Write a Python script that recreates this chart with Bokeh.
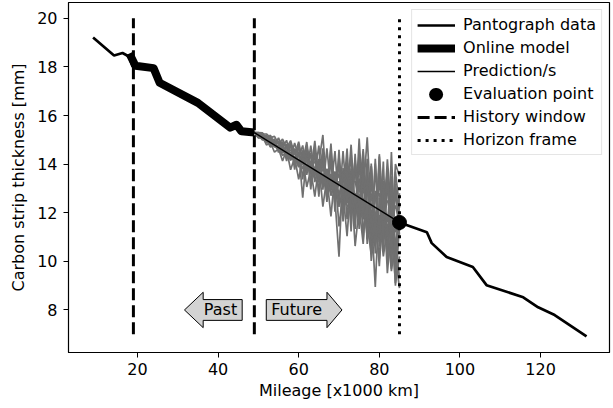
import math
from bokeh.plotting import figure
from bokeh.models import Range1d, FixedTicker, Legend, LegendItem, Label
from bokeh.embed import file_html
from bokeh.resources import INLINE

# ---------------- data ----------------
nan = float("nan")
pantograph_x = [9.0, 14.2, 16.3, 17.9, 18.8, 24.1, 25.3, 34.9, 43.1, 44.8, 46.0, 49.0,
                nan, 85.0, 91.8, 93.0, 96.7, 103.2, 106.6, 115.7, 119.4, 123.5, 131.4]
pantograph_y = [19.21, 18.47, 18.57, 18.43, 18.02, 18.02, 17.34, 16.52, 15.50, 15.64, 15.36, 15.30,
                nan, 11.60, 11.20, 10.75, 10.18, 9.77, 9.02, 8.52, 8.11, 7.79, 6.91]

online_x = [18.0, 19.5, 24.0, 25.5, 35.0, 43.0, 44.6, 45.8, 49.0]
online_y = [18.55, 18.05, 17.95, 17.35, 16.52, 15.50, 15.62, 15.35, 15.30]

pred_mean_x = [49.0, 85.0]
pred_mean_y = [15.30, 11.60]

pred_x = list(range(49, 86))
pred_a = [15.30, 15.25, 15.19, 14.99, 15.09, 14.74, 14.93, 14.48, 14.78, 14.17, 14.62, 13.87, 14.57,
          13.56, 14.46, 13.26, 14.06, 15.20, 12.85, 14.15, 12.34, 14.14, 11.94, 14.14, 12.03, 14.23,
          11.33, 13.92, 10.92, 14.02, 11.02, 14.01, 10.41, 13.41, 10.00, 13.70, 12.20]
pred_b = [15.30, 15.15, 15.24, 15.04, 14.79, 14.99, 14.53, 14.88, 14.23, 14.82, 13.97, 14.52, 12.62,
          14.46, 13.26, 14.46, 12.86, 14.15, 12.45, 14.25, 12.54, 10.19, 13.84, 11.74, 13.83, 11.33,
          14.23, 10.92, 13.62, 10.52, 14.02, 10.61, 13.31, 9.91, 13.40, 9.50, 12.80]
pred_c = [15.30, 15.28, 15.05, 15.15, 14.72, 14.90, 14.62, 14.45, 14.70, 14.20, 14.48, 13.95, 14.30,
          14.10, 13.70, 14.45, 13.40, 13.80, 13.60, 12.90, 13.70, 12.60, 13.50, 12.60, 14.80, 12.20,
          13.40, 12.80, 15.10, 12.00, 8.95, 12.60, 11.40, 14.20, 12.00, 10.60, 11.90]
pred_d = [15.30, 15.08, 15.15, 14.88, 15.02, 14.70, 14.80, 14.52, 14.68, 14.15, 14.60, 14.00, 13.85,
          14.30, 13.95, 13.50, 14.20, 13.30, 13.80, 12.70, 13.20, 13.60, 12.40, 13.10, 12.90, 11.80,
          15.05, 12.20, 13.00, 11.70, 12.80, 10.80, 13.30, 11.20, 12.40, 9.00, 11.50]
pred_e = [15.30, 15.30, 15.29, 15.04, 15.19, 14.79, 15.08, 14.68, 14.98, 14.27, 14.87, 14.27, 14.77,
          13.66, 14.76, 13.56, 14.76, 12.95, 14.65, 12.95, 14.54, 12.24, 14.54, 12.44, 14.43, 11.53,
          14.53, 11.72, 14.22, 10.72, 14.22, 11.11, 14.11, 10.01, 14.50, 10.30, 12.40]
pred_f = [15.30, 15.15, 15.10, 14.92, 14.95, 14.75, 14.58, 14.70, 14.35, 14.50, 14.25, 13.90, 14.50,
          13.65, 14.00, 13.85, 13.25, 14.60, 13.10, 13.50, 12.80, 13.30, 12.95, 12.40, 12.70, 13.90,
          11.90, 12.60, 11.50, 10.30, 12.90, 11.40, 12.20, 10.40, 12.60, 9.60, 11.60]
pred_g = [15.30, 15.10, 15.14, 14.79, 14.89, 14.49, 14.63, 14.13, 14.58, 13.77, 14.27, 13.37, 14.27,
          13.06, 13.76, 12.66, 13.96, 12.25, 13.45, 11.85, 13.64, 11.44, 12.84, 11.04, 13.33, 10.63,
          12.23, 10.72, 13.32, 10.02, 11.62, 10.11, 13.01, 9.51, 11.50, 9.10, 10.20]
pred_h = [15.30, 15.10, 15.05, 15.00, 14.70, 14.82, 14.65, 14.35, 14.50, 14.28, 14.15, 14.20, 13.80,
          13.95, 13.75, 13.60, 13.80, 13.40, 12.80, 13.60, 13.00, 12.90, 11.90, 13.30, 12.60, 12.80,
          12.00, 14.20, 11.60, 12.40, 11.90, 9.80, 12.50, 11.60, 13.50, 10.20, 8.90]
pred_i = [15.30, 15.22, 14.99, 15.11, 14.84, 15.04, 14.48, 14.93, 14.13, 14.87, 13.77, 14.82, 13.37,
          14.76, 12.96, 14.71, 12.66, 14.65, 12.60, 14.65, 12.04, 14.59, 11.64, 13.84, 11.23, 14.43,
          11.53, 14.52, 10.72, 13.52, 10.32, 14.31, 10.71, 13.81, 9.70, 13.00, 11.10]
pred_j = [15.30, 15.26, 15.08, 15.05, 14.82, 14.76, 14.70, 14.66, 14.40, 14.32, 14.30, 14.08, 14.12,
          13.85, 13.90, 13.80, 13.50, 13.60, 13.20, 13.40, 12.70, 13.20, 13.10, 12.50, 13.30, 11.90,
          12.60, 13.40, 10.90, 12.80, 11.70, 12.20, 12.40, 11.00, 11.80, 12.30, 11.60]
pred_k = [15.30, 15.30, 15.24, 15.24, 15.09, 15.14, 14.83, 15.03, 14.68, 14.97, 14.37, 14.92, 14.07,
          14.91, 13.66, 14.96, 13.36, 14.45, 12.85, 14.85, 12.44, 14.34, 12.64, 14.64, 11.83, 14.03,
          12.83, 14.62, 11.72, 13.92, 10.82, 14.41, 12.11, 13.71, 10.90, 14.00, 13.50]
pred_l = [15.30, 15.22, 15.25, 15.05, 15.12, 14.90, 14.95, 14.88, 14.70, 14.82, 14.55, 14.68, 14.30,
          14.70, 14.00, 14.40, 13.80, 14.30, 13.50, 14.20, 13.10, 14.00, 12.80, 13.70, 12.50, 14.10,
          12.20, 13.60, 11.90, 13.90, 11.60, 13.40, 10.90, 13.70, 10.60, 13.20, 11.60]
pred_m = [15.30, 15.16, 15.02, 14.94, 14.88, 14.80, 14.68, 14.58, 14.55, 14.38, 14.20, 14.15, 14.00,
          13.75, 13.80, 13.40, 13.60, 13.10, 13.25, 12.80, 13.10, 12.40, 12.70, 12.30, 12.00, 12.60,
          11.50, 12.20, 11.20, 11.80, 10.70, 11.90, 10.20, 11.40, 9.60, 10.90, 9.30]
pred_n = [15.30, 15.24, 15.15, 15.18, 14.98, 14.92, 14.85, 14.75, 14.80, 14.55, 14.62, 14.40, 14.48,
          14.20, 14.30, 14.05, 14.10, 13.85, 13.70, 13.95, 13.40, 13.50, 13.60, 12.90, 13.20, 13.30,
          12.50, 12.90, 13.10, 12.20, 12.60, 12.80, 11.70, 12.50, 12.30, 11.20, 11.60]
predictions = [pred_a, pred_b, pred_c, pred_d, pred_e, pred_f, pred_g,
               pred_h, pred_i, pred_j, pred_k, pred_l, pred_m, pred_n]

eval_x = [85.0]
eval_y = [11.60]

history_window = [19.0, 49.0]
horizon_frame = [85.0]
vline_bottom, vline_top = 7.0, 20.0

x_ticks = [20, 40, 60, 80, 100, 120]
y_ticks = [8, 10, 12, 14, 16, 18, 20]
x_lim = (2.9, 137.1)
y_lim = (6.25, 20.65)

past_label, past_xy = "Past", (40.6, 8.0)
future_label, future_xy = "Future", (59.5, 8.0)

# ---------------- layout ----------------
FONT = "DejaVu Sans"
FS = "16px"
W, H = 613, 408
BL, BR, BT, BB = 68, 4, 2, 56
frame_w = W - BL - BR
frame_h = H - BT - BB
sx = frame_w / (x_lim[1] - x_lim[0])
sy = frame_h / (y_lim[1] - y_lim[0])

p = figure(width=W, height=H, output_backend="svg", toolbar_location=None,
           x_range=Range1d(*x_lim), y_range=Range1d(*y_lim),
           min_border_left=BL, min_border_right=BR, min_border_top=BT, min_border_bottom=BB,
           background_fill_color="white", border_fill_color="white")
p.grid.visible = False
p.outline_line_color = "black"
p.outline_line_width = 1.2

for ax, ticks in ((p.xaxis, x_ticks), (p.yaxis, y_ticks)):
    ax.ticker = FixedTicker(ticks=ticks)
    ax.minor_tick_line_color = None
    ax.major_tick_in = 0
    ax.major_tick_out = 5
    ax.major_tick_line_color = "black"
    ax.axis_line_color = "black"
    ax.major_label_text_font = FONT
    ax.major_label_text_font_size = FS
    ax.major_label_text_color = "black"
    ax.axis_label_text_font = FONT
    ax.axis_label_text_font_size = FS
    ax.axis_label_text_font_style = "normal"
    ax.axis_label_text_color = "black"
p.xaxis.axis_label = "Mileage [x1000 km]"
p.yaxis.axis_label = "Carbon strip thickness [mm]"
p.xaxis.major_label_standoff = 5
p.yaxis.major_label_standoff = 6
p.xaxis.axis_label_standoff = 3
p.yaxis.axis_label_standoff = 6

# ---------------- glyphs ----------------
gray_rs = p.multi_line(xs=[pred_x] * len(predictions), ys=predictions,
                       line_color="#707070", line_width=1.7)
r_pant = p.line(pantograph_x, pantograph_y, line_color="black", line_width=2.7)
r_online = p.line(online_x, online_y, line_color="black", line_width=8, line_join="round")
r_pred = p.line(pred_mean_x, pred_mean_y, line_color="black", line_width=1.4)
r_hist = p.segment(x0=history_window, y0=[vline_bottom] * len(history_window),
                   x1=history_window, y1=[vline_top] * len(history_window),
                   line_color="black", line_width=3, line_dash="12 5")
r_hor = p.segment(x0=horizon_frame, y0=[vline_bottom] * len(horizon_frame),
                  x1=horizon_frame, y1=[vline_top] * len(horizon_frame),
                  line_color="black", line_width=3, line_dash="3 5")
# legend proxy for the big evaluation dot: a single-point line (no visible segment in the plot)
r_eval_leg = p.line(x=eval_x, y=eval_y, line_color="black", line_width=13, line_cap="round",
                    line_dash="1 60", line_dash_offset=43)
r_eval = p.scatter(eval_x, eval_y, size=14, marker="circle", fill_color="black", line_color="black")

# ---------------- Past / Future arrows ----------------
body_h, head_h = 10.4, 17.7
past_shape = [(-36, 0), (-17.3, head_h), (-17.3, body_h), (21.7, body_h),
              (21.7, -body_h), (-17.3, -body_h), (-17.3, -head_h)]
future_shape = [(-30.4, body_h), (30.3, body_h), (30.3, head_h), (45.3, 0),
                (30.3, -head_h), (30.3, -body_h), (-30.4, -body_h)]
for (ax_, ay_), shape, txt in ((past_xy, past_shape, past_label),
                               (future_xy, future_shape, future_label)):
    xs = [ax_ + dx / sx for dx, dy in shape]
    ys = [ay_ + dy / sy for dx, dy in shape]
    p.patch(xs, ys, fill_color="#d3d3d3", line_color="black", line_width=1)
    p.add_layout(Label(x=ax_, y=ay_, text=txt, text_align="center", text_baseline="middle",
                       text_font=FONT, text_font_size=FS, text_color="black"))

# ---------------- legend ----------------
legend = Legend(items=[
    LegendItem(label="Pantograph data", renderers=[r_pant]),
    LegendItem(label="Online model", renderers=[r_online]),
    LegendItem(label="Prediction/s", renderers=[r_pred]),
    LegendItem(label="Evaluation point", renderers=[r_eval_leg]),
    LegendItem(label="History window", renderers=[r_hist]),
    LegendItem(label="Horizon frame", renderers=[r_hor]),
], location="top_right")
legend.label_text_font = FONT
legend.label_text_font_size = FS
legend.label_text_color = "black"
legend.glyph_width = 38
legend.glyph_height = 18
legend.label_height = 18
legend.label_standoff = 8
legend.spacing = 4
legend.padding = 5
legend.margin = 7
legend.border_line_color = "#cccccc"
legend.border_line_width = 1
legend.background_fill_alpha = 0.85
p.add_layout(legend)

open("out.html", "w").write(file_html(p, INLINE))
